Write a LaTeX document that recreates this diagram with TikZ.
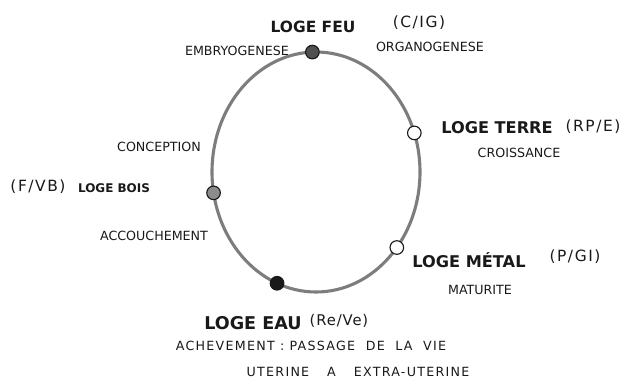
\documentclass[tikz,border=0pt]{standalone}
\usepackage{fontspec}
\setmainfont{DejaVu Sans}
\usetikzlibrary{positioning,calc}
\definecolor{ring}{RGB}{125,125,125}
\definecolor{ink}{RGB}{25,25,25}
\definecolor{fire}{RGB}{80,80,80}
\definecolor{wood}{RGB}{140,140,140}
\tikzset{
  loge/.style={font=\bfseries\fontsize{11.5}{13}\selectfont, text=ink, inner sep=1pt},
  organ/.style={font=\fontsize{11}{13}\selectfont\addfontfeature{LetterSpace=10}, text=ink, inner sep=1pt},
  stage/.style={font=\fontsize{9}{11}\selectfont, text=ink, inner sep=1pt},
  wide/.style={stage, font=\fontsize{9}{11}\selectfont\addfontfeature{LetterSpace=10}},
  dot/.style={circle, draw=ink, line width=0.8pt, minimum size=3.4mm, inner sep=0pt}
}

\begin{document}
\begin{tikzpicture}[x=0.25mm,y=-0.25mm]
  \useasboundingbox (0,0) rectangle (624,380);
  \coordinate (c) at (316,172);
  \draw[ring, line width=2.2pt] (c) ellipse [x radius=104, y radius=120];
  % les cinq loges sur le cycle
  \node[dot, fill=fire] (feu) at ($(c)+(268:104 and 120)$) {};
  \node[dot, fill=white] (terre) at ($(c)+(341:104 and 120)$) {};
  \node[dot, fill=white] (metal) at ($(c)+(39:104 and 120)$) {};
  \node[dot, fill=ink] (eau) at ($(c)+(112:104 and 120)$) {};
  \node[dot, fill=wood] (bois) at ($(c)+(170:104 and 120)$) {};
  % feu
  \node[loge, font=\bfseries\fontsize{11}{13}\selectfont] (feulbl) at (313,27) {LOGE FEU};
  \node[organ] (feuorg) at (419,23) {(C/IG)};
  \node[stage] (embryo) at (237,51) {EMBRYOGENESE};
  \node[stage] (organo) at (430,47) {ORGANOGENESE};
  % terre
  \node[loge] (terrelbl) at (497,128) {LOGE TERRE};
  \node[organ] (terreorg) at (593,127) {(RP/E)};
  \node[stage] (croiss) at (519,153) {CROISSANCE};
  % metal
  \node[loge] (metallbl) at (469,260) {LOGE MÉTAL};
  \node[organ] (metalorg) at (575,257) {(P/GI)};
  \node[stage] (matur) at (480,290) {MATURITE};
  % eau
  \node[loge, font=\bfseries\fontsize{12.5}{14}\selectfont] (eaulbl) at (253,323) {LOGE EAU};
  \node[organ, font=\fontsize{10.5}{12}\selectfont\addfontfeature{LetterSpace=6}] (eauorg) at (339,321) {(Re/Ve)};
  \node[wide] (achev) at (311,346) {ACHEVEMENT : PASSAGE \ DE \ LA \ VIE};
  \node[wide] (uterine) at (358,372) {UTERINE \quad A \quad EXTRA-UTERINE};
  % bois
  \node[loge, font=\bfseries\fontsize{8.5}{10}\selectfont] (boislbl) at (114,188) {LOGE BOIS};
  \node[organ] (boisorg) at (38,187) {(F/VB)};
  \node[stage] (concep) at (159,147) {CONCEPTION};
  \node[stage] (accouch) at (154,236) {ACCOUCHEMENT};
\end{tikzpicture}
\end{document}
